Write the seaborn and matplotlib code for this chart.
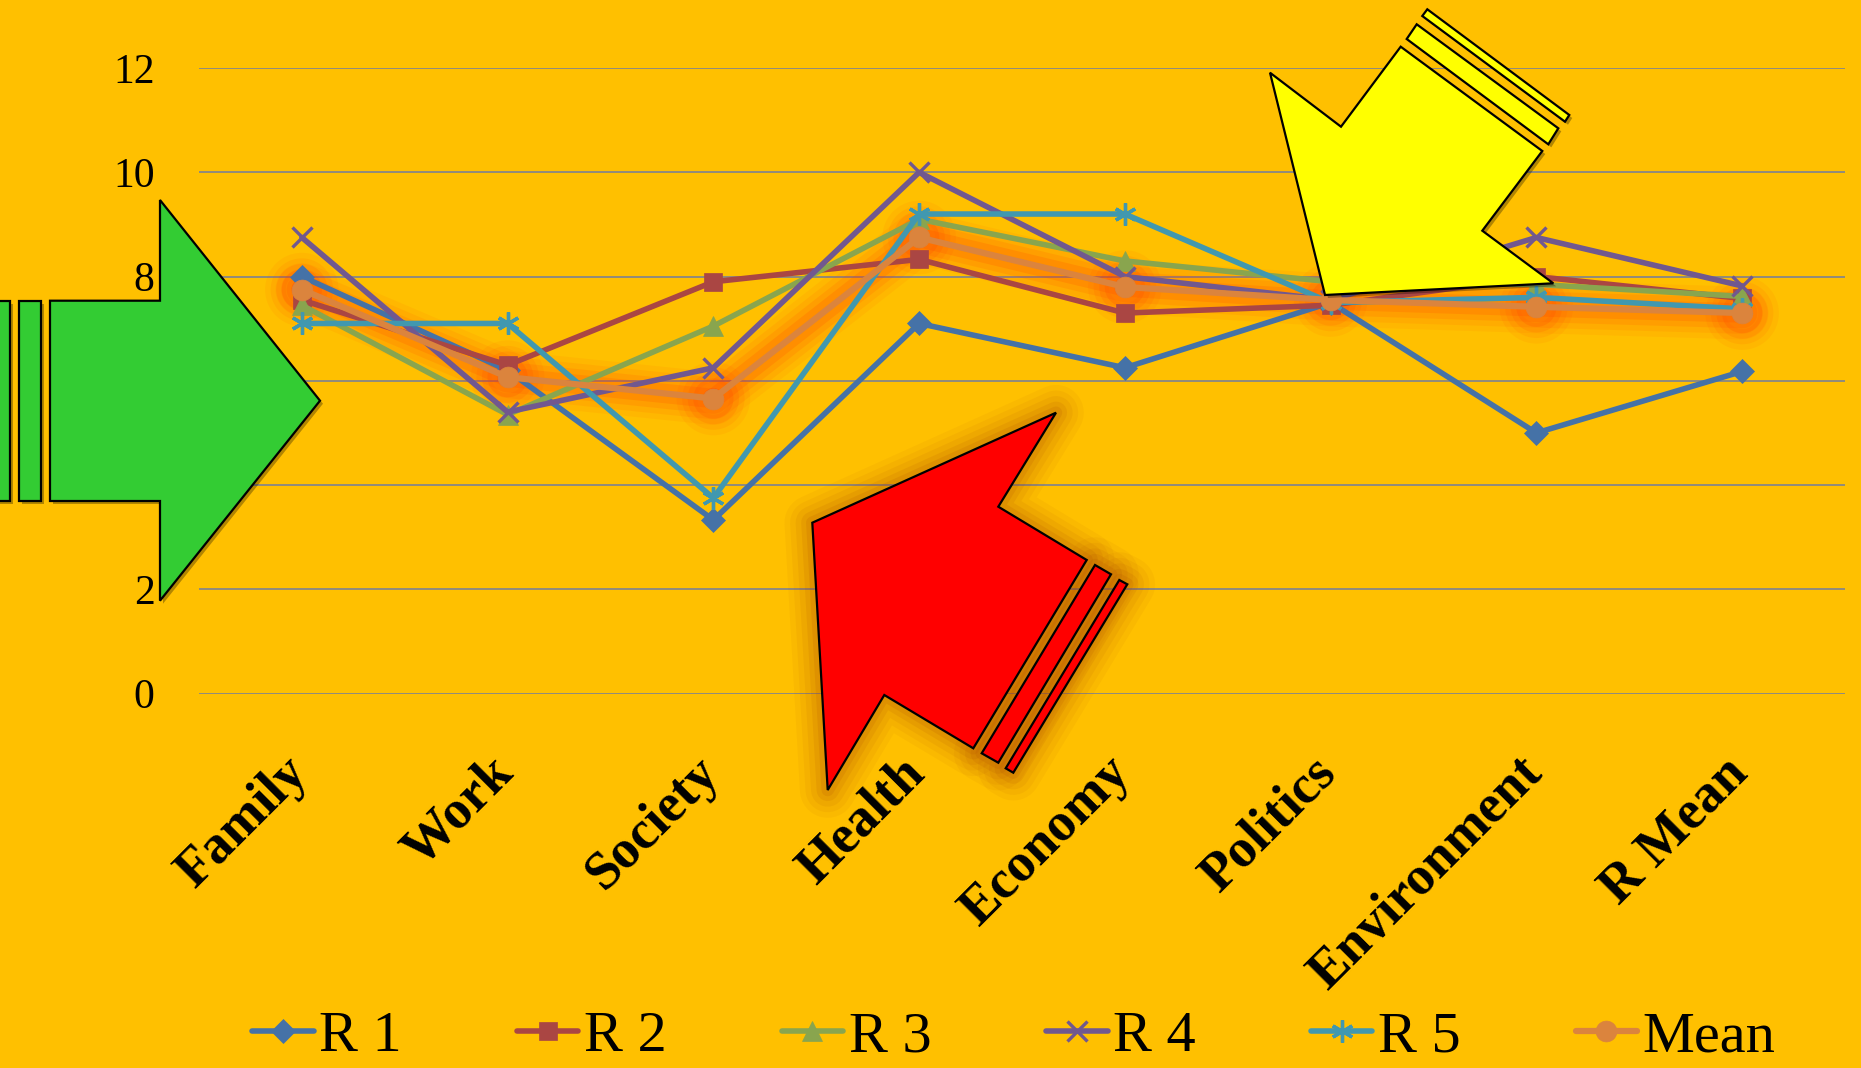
import pandas as pd
import seaborn as sns
import matplotlib.pyplot as plt
import matplotlib.patheffects as pe
from matplotlib.patches import Polygon
from matplotlib.transforms import ScaledTranslation

# ---- data ----
categories = ["Family", "Work", "Society", "Health", "Economy", "Politics", "Environment", "R Mean"]
r1 = [8.0, 6.2, 3.33, 7.1, 6.25, 7.5, 5.0, 6.18]
r2 = [7.55, 6.3, 7.9, 8.33, 7.3, 7.45, 8.0, 7.58]
r3 = [7.45, 5.35, 7.05, 9.1, 8.3, 7.9, 7.85, 7.62]
r4 = [8.75, 5.4, 6.25, 10.0, 8.0, 7.55, 8.75, 7.82]
r5 = [7.1, 7.1, 3.75, 9.2, 9.2, 7.5, 7.6, 7.38]
mean = [7.75, 6.07, 5.66, 8.75, 7.8, 7.55, 7.42, 7.3]
series_names = ["R 1", "R 2", "R 3", "R 4", "R 5", "Mean"]
y_ticks = [0, 2, 4, 6, 8, 10, 12]

BG = "#FFC000"
colors = ["#4572A7", "#AA4643", "#89A54E", "#71588F", "#4198AF", "#DB843D"]
markers = ["D", "s", "^", "x", (6, 2, 0), "o"]
msizes = [12, 13, 15, 15, 16, 15]

df = pd.DataFrame({
    "series": [s for s in series_names for _ in categories],
    "category": categories * len(series_names),
    "value": r1 + r2 + r3 + r4 + r5 + mean,
})

W, H = 1861, 1068

sns.set_theme(style="white")
plt.rcParams["font.family"] = ["Liberation Serif", "DejaVu Serif"]
plt.rcParams["text.color"] = "black"
plt.rcParams["xtick.color"] = "black"
plt.rcParams["ytick.color"] = "black"

fig = plt.figure(figsize=(W / 100, H / 100), dpi=100, facecolor=BG)
ax = fig.add_axes([199 / W, 1 - 693.5 / H, 1646 / W, 625.4 / H])
ax.set_facecolor(BG)

# soft glow under the Mean series
sns.lineplot(data=df[df.series == "Mean"], x="category", y="value", sort=False,
             ax=ax, color="#ff3000", lw=4.5, marker="o", ms=15,
             markeredgecolor="#ff3000", legend=False, zorder=1)
glow = ax.lines[-1]
glow.set_path_effects([
    pe.Stroke(linewidth=38, foreground="#ff3000", alpha=0.06),
    pe.Stroke(linewidth=30, foreground="#ff3000", alpha=0.08),
    pe.Stroke(linewidth=22, foreground="#ff3400", alpha=0.11),
    pe.Stroke(linewidth=14, foreground="#ff3c00", alpha=0.16),
])

for name, c, m, ms in zip(series_names, colors, markers, msizes):
    mew = 2.4 if m in ("x", (6, 2, 0)) else 0.5
    lw = 4.5 if name == "Mean" else 4.0
    sns.lineplot(data=df[df.series == name], x="category", y="value", sort=False,
                 ax=ax, color=c, lw=lw, marker=m, ms=ms, markeredgecolor=c,
                 markeredgewidth=mew, label=name, zorder=3)

if ax.get_legend() is not None:
    ax.get_legend().remove()

ax.set_xlim(-0.5, len(categories) - 0.5)
ax.set_ylim(0, 12)
ax.set_yticks(y_ticks)
ax.set_xticks(range(len(categories)))
ax.set_xticklabels(categories, rotation=45, ha="right", va="center",
                   rotation_mode="anchor", fontsize=39, fontweight="bold")
ax.tick_params(axis="x", length=0, pad=52)
ax.tick_params(axis="y", length=0, pad=32, labelsize=30)
for lab in ax.get_xticklabels():
    lab.set_transform(lab.get_transform() + ScaledTranslation(-0.02, 0, fig.dpi_scale_trans))
ax.set_xlabel("")
ax.set_ylabel("")
ax.grid(axis="y", color="#878787", lw=1.3)
ax.grid(axis="x", visible=False)
ax.set_axisbelow(True)
for s in ax.spines.values():
    s.set_visible(False)

handles, labels = ax.get_legend_handles_labels()
fig.legend(handles, labels, loc="center", bbox_to_anchor=(1014 / W, 1 - 1037 / H),
           ncol=6, frameon=False, fontsize=42, handlelength=1.05,
           handletextpad=0.1, columnspacing=1.97)


# ---- decorative block arrows (figure pixel coordinates) ----
def fpx(points):
    return [(x / W, 1 - y / H) for x, y in points]


def add_shape(points, face, z, glow_color=None, shadow=True):
    if glow_color:
        for lw, a in [(40, 0.05), (32, 0.06), (24, 0.08), (16, 0.1), (9, 0.12)]:
            fig.add_artist(Polygon(fpx(points), closed=True, fill=False, edgecolor=glow_color,
                                   lw=lw, alpha=a, joinstyle="round",
                                   transform=fig.transFigure, zorder=z - 0.2))
    if shadow:
        fig.add_artist(Polygon(fpx([(x + 3, y + 3) for x, y in points]), closed=True,
                               facecolor="black", edgecolor="none", alpha=0.3,
                               transform=fig.transFigure, zorder=z - 0.1))
    fig.add_artist(Polygon(fpx(points), closed=True, facecolor=face, edgecolor="black",
                           lw=1.6, transform=fig.transFigure, zorder=z))


green = "#33CC33"
add_shape([(-10, 300.7), (10, 300.7), (10, 501), (-10, 501)], green, 10)
add_shape([(19.3, 300.7), (40.7, 300.7), (40.7, 501), (19.3, 501)], green, 10)
add_shape([(50, 300.7), (160, 300.7), (160, 200), (320, 400.7), (160, 600.7),
           (160, 501), (50, 501)], green, 10)

red = "#FF0000"
add_shape([(1056, 412.7), (998.3, 506.7), (1086.7, 560), (973.3, 748.3), (884.3, 695),
           (827.7, 790), (812.3, 522.7)], red, 10, glow_color="#a84000", shadow=False)
add_shape([(1095, 565), (1111, 574.3), (998.3, 762.7), (981.7, 753.3)], red, 10,
          glow_color="#a84000", shadow=False)
add_shape([(1119.3, 580), (1127.3, 584.3), (1013.3, 772.7), (1005.7, 768.3)], red, 10,
          glow_color="#a84000", shadow=False)

yellow = "#FFFF00"
add_shape([(1270, 72.7), (1341, 126.7), (1400.7, 46.7), (1542.3, 151), (1482.3, 230.7),
           (1553.3, 283.3), (1325, 295)], yellow, 10)
add_shape([(1406.7, 39), (1416.7, 24.3), (1558.3, 128.3), (1548.3, 144.3)], yellow, 10)
add_shape([(1422.3, 16), (1427.3, 9.3), (1569.3, 115), (1565, 121.7)], yellow, 10)

fig.savefig("out.png", dpi=100, facecolor=BG)
plt.close(fig)
